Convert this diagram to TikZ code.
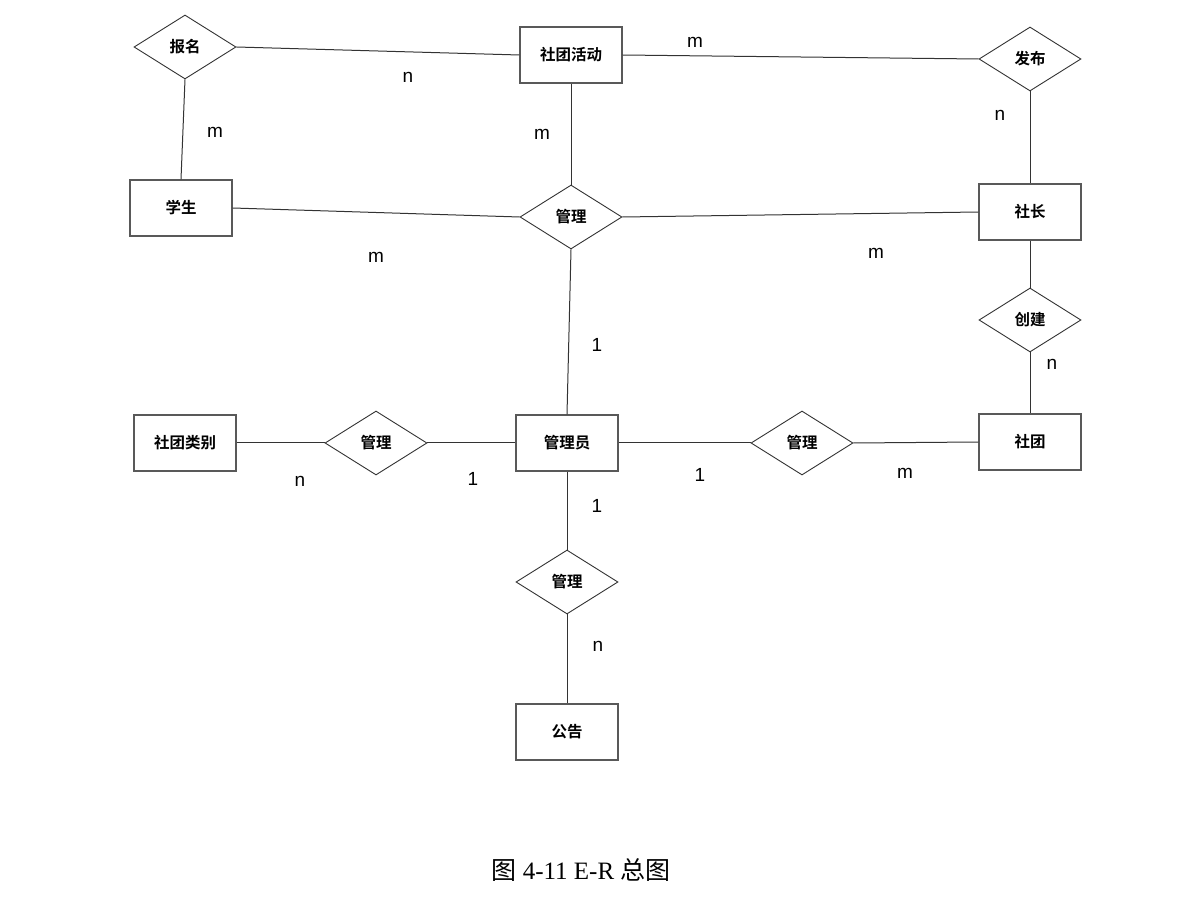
\documentclass[tikz,border=0pt]{standalone}
\usepackage{fontspec}
\setmainfont{Liberation Serif}
\newfontfamily\lblfont{Liberation Sans}
\newfontfamily\cjkb{Noto Sans CJK SC Bold}
\newfontfamily\cjkl{Noto Sans CJK SC}
\usetikzlibrary{shapes.geometric}
\begin{document}
\begin{tikzpicture}[x=1pt,y=-1pt,
  conn/.style={line width=1pt,draw=black!80},
  ent/.style={draw=black!65,line width=1.2pt,minimum width=102pt,minimum height=56pt,inner sep=0pt,font=\cjkb\fontsize{15.5}{17}\selectfont},
  rel/.style={draw=black!80,line width=0.9pt,diamond,aspect=1.6,minimum width=102pt,minimum height=64pt,inner sep=0pt,font=\cjkb\fontsize{15.5}{17}\selectfont},
  card/.style={font=\lblfont\fontsize{19}{21}\selectfont,inner sep=0pt}]
\useasboundingbox (0,0) rectangle (1179,901);
% entities
\node[ent] (hd) at (571,55) {社团活动};
\node[ent] (xs) at (181,208) {学生};
\node[ent] (sz) at (1030,212) {社长};
\node[ent] (lb) at (185,443) {社团类别};
\node[ent] (gly) at (567,443) {管理员};
\node[ent] (st) at (1030,442) {社团};
\node[ent] (gg) at (567,732) {公告};
% relations
\node[rel] (bm) at (185,47) {报名};
\node[rel] (fb) at (1030,59) {发布};
\node[rel] (gl1) at (571,217) {管理};
\node[rel] (cj) at (1030,320) {创建};
\node[rel] (gl2) at (376,443) {管理};
\node[rel] (gl3) at (802,443) {管理};
\node[rel] (gl4) at (567,582) {管理};
% connectors
\draw[conn] (bm.east) -- (hd.west);
\draw[conn] (hd.east) -- (fb.west);
\draw[conn] (bm.south) -- (xs.north);
\draw[conn] (hd.south) -- (gl1.north);
\draw[conn] (fb.south) -- (sz.north);
\draw[conn] (xs.east) -- (gl1.west);
\draw[conn] (gl1.east) -- (sz.west);
\draw[conn] (gl1.south) -- (gly.north);
\draw[conn] (sz.south) -- (cj.north);
\draw[conn] (cj.south) -- (st.north);
\draw[conn] (lb.east) -- (gl2.west);
\draw[conn] (gl2.east) -- (gly.west);
\draw[conn] (gly.east) -- (gl3.west);
\draw[conn] (gl3.east) -- (st.west);
\draw[conn] (gly.south) -- (gl4.north);
\draw[conn] (gl4.south) -- (gg.north);
% cardinalities
\node[card] (c1) at (695,42) {m};
\node[card] (c2) at (408,77) {n};
\node[card] (c3) at (215,132) {m};
\node[card] (c4) at (542,134) {m};
\node[card] (c5) at (1000,115) {n};
\node[card] (c6) at (376,257) {m};
\node[card] (c7) at (876,253) {m};
\node[card] (c8) at (597,345) {1};
\node[card] (c9) at (1052,364) {n};
\node[card] (c10) at (300,481) {n};
\node[card] (c11) at (473,479) {1};
\node[card] (c12) at (700,475) {1};
\node[card] (c13) at (905,473) {m};
\node[card] (c14) at (597,506) {1};
\node[card] (c15) at (598,646) {n};
% caption
\node (cap) at (581,870) {\fontsize{25}{28}\selectfont{\cjkl 图} 4-11 E-R {\cjkl 总图}};
\end{tikzpicture}
\end{document}
